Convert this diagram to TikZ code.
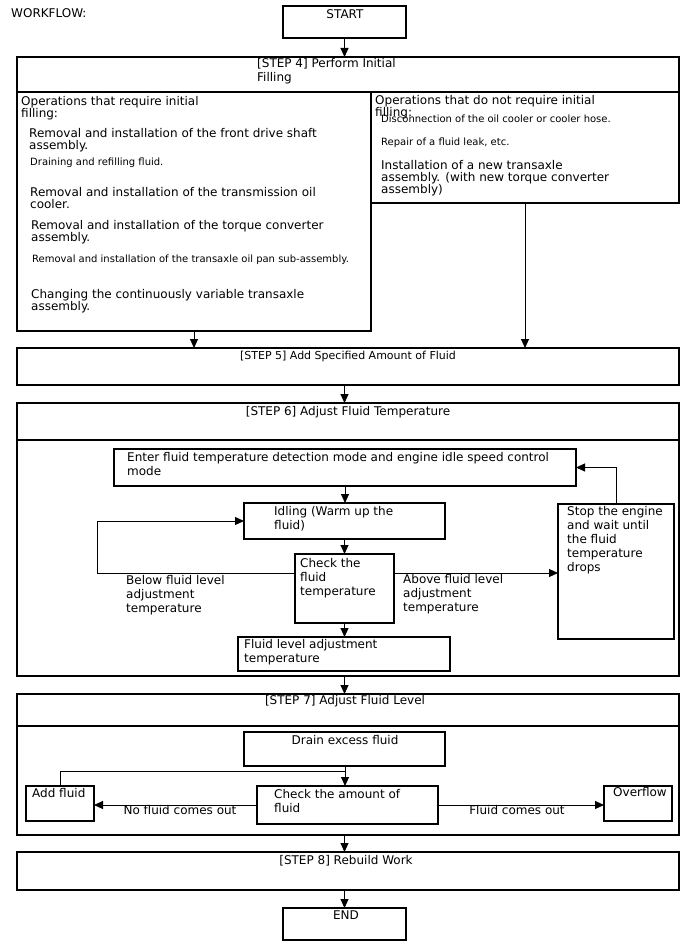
\documentclass[tikz,border=0pt]{standalone}
\usepackage{fontspec}
\setmainfont{DejaVu Sans}
\usetikzlibrary{arrows.meta,calc}
\newcommand\bx[5]{\node[box,minimum width=#4-#2,minimum height=#5-#3] (#1) at (#2,#3) {};}
\begin{document}
\begin{tikzpicture}[x=1pt,y=-1pt,
  box/.style={draw,line width=1.5pt,inner sep=0pt,outer sep=0pt,anchor=north west},
  txt/.style={inner sep=0pt,align=left,anchor=north west,font=\fontsize{12}{12}\selectfont},
  wtxt/.style={txt,font=\fontsize{12}{14}\selectfont},
  ctxt/.style={txt,anchor=north,align=center},
  small/.style={font=\fontsize{10}{11}\selectfont},
  arr/.style={line width=1pt,-{Triangle[width=8pt,length=9pt]}},
  ln/.style={line width=1pt}]
\useasboundingbox (0,0) rectangle (688,949);
% boxes
\bx{start}{283}{6}{406}{38}
\bx{s4h}{17}{57}{679}{92}
\bx{s4l}{17}{92}{371}{331}
\bx{s4r}{371}{92}{679}{203}
\bx{s5}{17}{348}{679}{385}
\bx{s6h}{17}{403}{679}{440}
\bx{s6b}{17}{440}{679}{676}
\bx{enter}{114}{449}{576}{486}
\bx{idle}{244}{503}{445}{539}
\bx{chk}{295}{554}{394}{623}
\bx{stop}{558}{504}{674}{639}
\bx{flv}{238}{637}{450}{671}
\bx{s7h}{17}{694}{679}{726}
\bx{s7b}{17}{726}{679}{835}
\bx{drain}{244}{732}{445}{766}
\bx{addf}{26}{786}{94}{821}
\bx{chka}{257}{786}{438}{824}
\bx{ovf}{604}{786}{672}{821}
\bx{s8}{17}{852}{679}{890}
\bx{end}{283}{908}{406}{940}
% texts
\node[txt] (twf) at (11,8) {WORKFLOW:};
\node[ctxt] (tstart) at (345,9) {START};
\node[wtxt] (ts4) at (257,58) {[STEP 4] Perform Initial\\Filling};
\node[txt] (tl0) at (21,96) {Operations that require initial\\filling:};
\node[txt] (tl1) at (29,128) {Removal and installation of the front drive shaft\\assembly.};
\node[txt,small] (tl2) at (30,158) {Draining and refilling fluid.};
\node[txt] (tl3) at (30,187) {Removal and installation of the transmission oil\\cooler.};
\node[txt] (tl4) at (31,220) {Removal and installation of the torque converter\\assembly.};
\node[txt,small] (tl5) at (32,255) {Removal and installation of the transaxle oil pan sub-assembly.};
\node[txt] (tl6) at (31,289) {Changing the continuously variable transaxle\\assembly.};
\node[txt] (tr0) at (375,95) {Operations that do not require initial\\filling:};
\node[txt,small] (tr1) at (381,115) {Disconnection of the oil cooler or cooler hose.};
\node[txt,small] (tr2) at (381,138) {Repair of a fluid leak, etc.};
\node[txt] (tr3) at (381,160) {Installation of a new transaxle\\assembly. (with new torque converter\\assembly)};
\node[ctxt,font=\fontsize{11}{11}\selectfont] (ts5) at (348,351) {[STEP 5] Add Specified Amount of Fluid};
\node[ctxt] (ts6) at (348,406) {[STEP 6] Adjust Fluid Temperature};
\node[wtxt] (tenter) at (127,452) {Enter fluid temperature detection mode and engine idle speed control\\mode};
\node[wtxt] (tidle) at (274,506) {Idling (Warm up the\\fluid)};
\node[wtxt] (tchk) at (300,558) {Check the\\fluid\\temperature};
\node[wtxt] (tbelow) at (126,575) {Below fluid level\\adjustment\\temperature};
\node[wtxt] (tabove) at (403,574) {Above fluid level\\adjustment\\temperature};
\node[wtxt] (tstop) at (567,506) {Stop the engine\\and wait until\\the fluid\\temperature\\drops};
\node[wtxt] (tflv) at (244,639) {Fluid level adjustment\\temperature};
\node[ctxt] (ts7) at (345,695) {[STEP 7] Adjust Fluid Level};
\node[ctxt] (tdrain) at (345,735) {Drain excess fluid};
\node[txt] (taddf) at (32,788) {Add fluid};
\node[wtxt] (tchka) at (274,789) {Check the amount of\\fluid};
\node[ctxt] (tno) at (180,805) {No fluid comes out};
\node[ctxt] (tyes) at (517,805) {Fluid comes out};
\node[txt] (tovf) at (613,787) {Overflow};
\node[ctxt] (ts8) at (346,855) {[STEP 8] Rebuild Work};
\node[ctxt] (tend) at (346,911) {END};
% connectors
\draw[arr] (start.south) -- (start.south |- s4h.north);
\draw[arr] (s4l.south) -- (s4l.south |- s5.north);
\draw[arr] (s4r.south) -- (s4r.south |- s5.north);
\draw[arr] (s5.south -| start.south) -- (s6h.north -| start.south);
\draw[arr] (enter.south) -- (enter.south |- idle.north);
\draw[arr] (idle.south) -- (idle.south |- chk.north);
\draw[arr] (chk.south) -- (chk.south |- flv.north);
\coordinate (cl) at ($(chk.north west)+(0,19)$);
\coordinate (cr) at ($(chk.north east)+(0,19)$);
\draw[arr] (cl) -- (97,573) |- (idle.west);
\draw[arr] (cr) -- (cr -| stop.west);
\draw[arr] (stop.north) |- (enter.east);
\draw[arr] (s6b.south -| start.south) -- (s7h.north -| start.south);
\coordinate (jn) at (345,771);
\draw[arr] (drain.south -| jn) -- (chka.north -| jn);
\draw[ln] (addf.north) |- (jn);
\draw[arr] (chka.west) -- (chka.west -| addf.east);
\draw[arr] (chka.east) -- (chka.east -| ovf.west);
\draw[arr] (s7b.south -| start.south) -- (s8.north -| start.south);
\draw[arr] (s8.south -| start.south) -- (end.north -| start.south);
\end{tikzpicture}
\end{document}
